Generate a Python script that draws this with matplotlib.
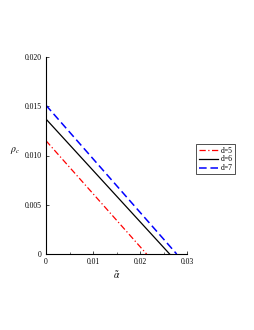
import numpy as np
import matplotlib
matplotlib.use("Agg")
import matplotlib.pyplot as plt

plt.rcParams['font.family'] = ['Liberation Serif', 'DejaVu Serif']
plt.rcParams['mathtext.fontset'] = 'stix'

# critical density vs alpha, straight lines
labels = ['d=5', 'd=6', 'd=7']
alpha_5 = [0.0, 0.0214]
rho_5 = [0.0115, 0.0]
alpha_6 = [0.0, 0.0263]
rho_6 = [0.0137, 0.0]
alpha_7 = [0.0, 0.0278]
rho_7 = [0.0151, 0.0]

fig = plt.figure(figsize=(2.55, 3.3), dpi=100)
ax = fig.add_axes([46/255, 1-254/330, 141/255, 197/330])

ax.plot(alpha_5, rho_5, color='red', lw=0.9, dashes=(5, 2, 1, 2), label=labels[0])
ax.plot(alpha_6, rho_6, color='black', lw=0.9, label=labels[1])
ax.plot(alpha_7, rho_7, color='blue', lw=1.1, dashes=(5, 2.5), label=labels[2])

ax.set_xlim(0, 0.03)
ax.set_ylim(0, 0.02)
ax.set_xticks([0, 0.01, 0.02, 0.03])
ax.set_xticklabels(['0', '0.01', '0.02', '0.03'])
ax.set_xticks(np.arange(0, 0.031, 0.005), minor=True)
ax.set_yticks([0, 0.005, 0.01, 0.015, 0.02])
ax.set_yticklabels(['0', '0.005', '0.010', '0.015', '0.020'])
ax.tick_params(labelsize=5.5, length=2, width=0.5, direction='in', pad=3)
ax.tick_params(which='minor', length=1.5, width=0.4, direction='in')

for s in ['top', 'right']:
    ax.spines[s].set_visible(False)
for s in ['left', 'bottom']:
    ax.spines[s].set_linewidth(0.8)

ax.set_ylabel(r'$\rho_c$', fontsize=7, rotation=0, labelpad=2)
ax.yaxis.set_label_coords(-0.22, 0.5)
ax.set_xlabel(r'$\tilde{\alpha}$', fontsize=7, labelpad=2)

leg = ax.legend(loc='center left', bbox_to_anchor=(1.04, 0.48), fontsize=5.5,
                frameon=True, fancybox=False, edgecolor='black',
                handlelength=2.5, borderpad=0.3, labelspacing=0.1,
                handletextpad=0.4)
leg.get_frame().set_linewidth(0.6)

fig.savefig('out.png', dpi=100)
